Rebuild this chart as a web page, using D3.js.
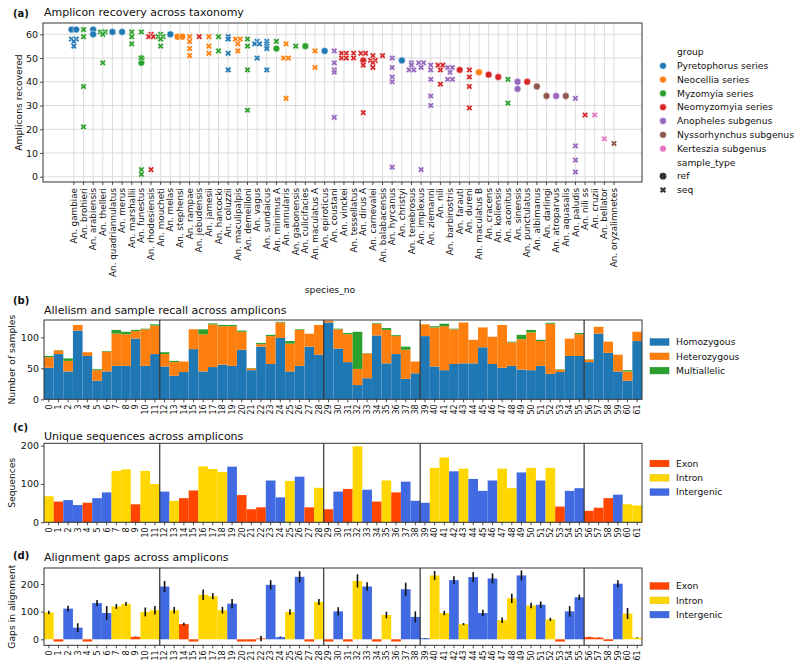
<!DOCTYPE html>
<html><head><meta charset="utf-8">
<script src="https://cdn.jsdelivr.net/npm/d3@7"></script>
<style>body{margin:0;background:#fff} text{font-family:"DejaVu Sans",sans-serif;fill:#111}</style>
</head><body><svg id="c" width="800" height="671"></svg>
<script>
// ---------- Panel (a) data ----------
const species = ["An. gambiae","An. brohieri","An. arabiensis","An. thelleri","An. quadriannulatus","An. merus","An. marshallii","An. funestus","An. rhodesiensis","An. moucheti","An. melas","An. stephensi","An. rampae","An. jebudensis","An. jamesii","An. hancocki","An. coluzzii","An. maculipalpis","An. demeilloni","An. vagus","An. sundaicus","An. minimus A","An. annularis","An. gabonensis","An. culicifacies","An. maculatus A","An. epiroticus","An. coustani","An. vinckei","An. tessellatus","An. dirus A","An. carnevalei","An. balabacensis","An. hyrcanus","An. christyi","An. tenebrosus","An. implexus","An. ziemanni","An. nili","An. barbirostris","An. farauti","An. dureni","An. maculatus B","An. cracens","An. koliensis","An. aconitus","An. sinensis","An. punctulatus","An. albimanus","An. darlingi","An. atroparvus","An. aquasalis","An. paludis","An. nili ss","An. cruzii","An. bellator","An. oryzalimnetes"];
const groups = ["Pyretophorus series","Neocellia series","Myzomyia series","Neomyzomyia series","Anopheles subgenus","Nyssorhynchus subgenus","Kerteszia subgenus"];
const groupColors = ["#1f77b4","#ff7f0e","#2ca02c","#d62728","#9467bd","#8c564b","#e377c2"];
const speciesGroup = [0,2,0,2,0,0,2,2,3,2,0,1,1,3,1,2,0,1,2,0,0,2,1,2,2,1,0,4,3,3,3,3,3,4,0,4,4,4,3,4,3,3,1,3,3,2,4,3,5,5,4,5,4,3,6,6,5];
const refValues = [[62,62],[],[62,60],[],[61],[61],[],[50,48],[],[],[60],[59,59],[],[],[],[],[],[],[],[],[],[54],[],[],[55],[],[53],[],[],[],[49],[],[],[],[49],[],[],[],[],[],[45],[],[44],[43],[42],[],[40,37],[40],[38],[34],[34],[34],[],[],[],[],[]];
const seqValues = [[58,58,57,55],[62,59,38,21],[],[61,61,60,48],[],[],[61,59,56],[61,50,3,1],[60,59,59,3],[60,59,59,58,55],[],[],[59,57,54,51],[59],[59,55,52],[59,53],[59,58,52,45],[58,58,56,53],[58,55,45,28],[57,56,56,50],[57,56,55,54,45],[57],[56,50,50,33],[55],[],[53,46],[],[53,48,45,44,25],[52,52,50,50],[52,50],[52,52,47,27],[51,49,49,48,46],[51],[50,46,42,40,4],[],[48,47,45,45],[48,48,46,3],[47,45,41,34,30],[47,47,45,39],[46,46,44,41,41],[],[45,42,38,29],[],[],[],[41,31],[],[],[],[],[],[],[33,13,7,2],[26],[26],[16],[14]];
const yTicksA = [0,10,20,30,40,50,60];

// ---------- Panel (b) data ----------
const amplicons = d3.range(62);
const homozygous = [51,73,45,111,70,30,45,54,54,98,54,73,53,38,44,81,45,52,56,54,80,47,85,57,99,45,54,85,72,124,82,60,23,34,103,58,73,33,42,102,53,47,57,58,58,84,57,51,54,48,47,54,41,44,70,70,60,106,75,45,30,94];
const heterozygous = [17,6,17,9,6,17,32,52,51,12,59,46,20,22,17,32,60,69,62,64,29,3,4,45,25,45,58,21,48,3,31,45,26,40,19,54,29,47,19,19,63,71,56,66,38,32,44,69,38,49,61,40,81,4,28,35,4,11,18,27,15,15];
const multiallelic = [2,0.5,4,0,0,1.5,1,6,4,2,1,2,3,2,0,0,8,1.5,2,2,2,0.5,2,2,1,4,1,0,0,0,1,2,60,0.5,1,3,1.5,5,0,0,2,4,1,0,0,0,0,0,1,7,4,2,1.5,0.5,0,2,0.5,0,0,0,2,0];
const alleleKeys = ["Homozygous","Heterozygous","Multiallelic"];
const alleleColors = ["#1f77b4","#ff7f0e","#2ca02c"];
const yTicksB = [0,50,100];

// ---------- Panel (c)/(d) data ----------
const regionTypes = ["Exon","Intron","Intergenic"];
const regionColors = ["#ff4500","#ffd700","#4169e1"];
const ampliconType = ["Intron","Exon","Intergenic","Intergenic","Exon","Intergenic","Intergenic","Intron","Intron","Exon","Intron","Intron","Intergenic","Intron","Exon","Exon","Intron","Intron","Intron","Intergenic","Exon","Exon","Exon","Intergenic","Intergenic","Intron","Intergenic","Exon","Intron","Exon","Intergenic","Exon","Intron","Intergenic","Exon","Intron","Exon","Intergenic","Intergenic","Intergenic","Intron","Intron","Intergenic","Intron","Intergenic","Intergenic","Intergenic","Intron","Intron","Intergenic","Intron","Intergenic","Intron","Exon","Intergenic","Intergenic","Exon","Exon","Exon","Intergenic","Intron","Intron"];
const uniqueSeqs = [68,54,58,45,51,63,78,134,138,47,134,100,80,56,63,83,146,139,131,145,71,34,39,109,65,108,119,39,90,34,80,87,198,85,54,109,78,106,56,51,142,169,133,140,113,82,109,140,89,130,142,109,142,41,82,89,30,38,63,72,47,44];
const yTicksC = [0,100,200];
const gaps = [97,-8,111,42,-8,131,95,119,128,9,99,105,191,105,55,-8,161,156,105,129,-8,-8,3,197,8,99,226,-8,135,-8,101,-8,211,191,-8,88,-8,181,81,4,231,95,214,55,225,95,220,69,148,231,122,125,72,-8,101,152,8,6,-6,201,93,6];
const gapErr = [6,0,10,16,0,11,25,9,7,1,16,15,20,12,5,0,19,11,12,17,0,0,10,17,2,10,20,0,11,0,15,0,24,15,0,12,0,24,20,1,16,8,14,4,18,12,18,10,17,18,10,12,6,0,19,10,1,1,0,13,20,1];
const yTicksD = [0,100,200];
const groupBreaks = [12,29,39,56];

const svg = d3.select("#c");
const FS_TITLE = 11, FS_LAB = 9.2, FS_TICK = 9.5;

function styleAxis(g, fs){
  g.select(".domain").remove();
  g.selectAll(".tick line").attr("stroke","#222").attr("stroke-width",0.8);
  g.selectAll(".tick text").attr("font-size",fs).attr("fill","#111").style("font-family","DejaVu Sans");
}

// ================= Panel (a) =================
const A = {l:43, r:642, t:23, b:182};
const xA = d3.scaleLinear().domain([-3.2, 58.9]).range([A.l, A.r]);
const yA = d3.scaleLinear().domain([-2.23, 64.76]).range([A.b, A.t]);
const gA = svg.append("g");
gA.selectAll("line.vg").data(species).join("line")
  .attr("x1",(d,i)=>xA(i)).attr("x2",(d,i)=>xA(i)).attr("y1",A.t).attr("y2",A.b)
  .attr("stroke","#dcdcdc").attr("stroke-width",1);
gA.selectAll("line.hg").data(yTicksA).join("line")
  .attr("x1",A.l).attr("x2",A.r).attr("y1",d=>yA(d)).attr("y2",d=>yA(d))
  .attr("stroke","#dcdcdc").attr("stroke-width",1);

function spread(vals){
  const cnt = {}, seen = {};
  vals.forEach(v=>cnt[v]=(cnt[v]||0)+1);
  return vals.map(v=>{ const k=seen[v]||0; seen[v]=k+1; return {v, off:(k-(cnt[v]-1)/2)*4.7}; });
}
const pts = [];
species.forEach((s,i)=>{
  spread(refValues[i]).forEach(p=>pts.push({i, v:p.v, off:p.off, type:"ref"}));
  spread(seqValues[i]).forEach(p=>pts.push({i, v:p.v, off:p.off, type:"seq"}));
});
const xSym = d3.symbol(d3.symbolCross, 24);
pts.forEach(p=>{
  const cx = xA(p.i)+p.off, cy = yA(p.v), col = groupColors[speciesGroup[p.i]];
  if(p.type==="ref"){
    gA.append("circle").attr("cx",cx).attr("cy",cy).attr("r",3.4).attr("fill",col).attr("stroke","#fff").attr("stroke-width",0.5);
  } else {
    gA.append("path").attr("d",xSym()).attr("transform",`translate(${cx},${cy}) rotate(45)`).attr("fill",col).attr("stroke","#fff").attr("stroke-width",0.5);
  }
});
gA.append("rect").attr("x",A.l).attr("y",A.t).attr("width",A.r-A.l).attr("height",A.b-A.t).attr("fill","none").attr("stroke","#333").attr("stroke-width",1);
const axA = gA.append("g").attr("transform",`translate(${A.l},0)`).call(d3.axisLeft(yA).tickValues(yTicksA).tickSize(3).tickPadding(2));
styleAxis(axA, FS_TICK);
gA.selectAll("text.sp").data(species).join("text")
  .attr("transform",(d,i)=>`translate(${xA(i)},${A.b+6}) rotate(-90)`)
  .attr("text-anchor","end").attr("dy","0.35em").attr("font-size",8.8).text(d=>d);
gA.selectAll("line.xt").data(species).join("line")
  .attr("x1",(d,i)=>xA(i)).attr("x2",(d,i)=>xA(i)).attr("y1",A.b).attr("y2",A.b+3).attr("stroke","#222").attr("stroke-width",0.8);
svg.append("text").attr("x",330).attr("y",293).attr("text-anchor","middle").attr("font-size",FS_LAB).text("species_no");
svg.append("text").attr("transform",`translate(22,${(A.t+A.b)/2}) rotate(-90)`).attr("text-anchor","middle").attr("font-size",FS_LAB).text("Amplicons recovered");
svg.append("text").attr("x",13).attr("y",17).attr("font-size",10).attr("font-weight","bold").text("(a)");
svg.append("text").attr("x",44).attr("y",16).attr("font-size",FS_TITLE).text("Amplicon recovery across taxonomy");

// legend (a)
const legA = svg.append("g");
const lY0 = 52, lDy = 13.8;
legA.append("text").attr("x",677).attr("y",lY0).attr("dy","0.35em").attr("font-size",FS_LAB).text("group");
groups.forEach((gname,k)=>{
  const y = lY0 + (k+1)*lDy;
  legA.append("circle").attr("cx",663).attr("cy",y).attr("r",3.4).attr("fill",groupColors[k]).attr("stroke","#fff").attr("stroke-width",0.5);
  legA.append("text").attr("x",677).attr("y",y).attr("dy","0.35em").attr("font-size",FS_LAB).text(gname);
});
legA.append("text").attr("x",677).attr("y",lY0+8*lDy).attr("dy","0.35em").attr("font-size",FS_LAB).text("sample_type");
legA.append("circle").attr("cx",663).attr("cy",lY0+9*lDy).attr("r",3.4).attr("fill","#333");
legA.append("text").attr("x",677).attr("y",lY0+9*lDy).attr("dy","0.35em").attr("font-size",FS_LAB).text("ref");
legA.append("path").attr("d",xSym()).attr("transform",`translate(663,${lY0+10*lDy}) rotate(45)`).attr("fill","#333");
legA.append("text").attr("x",677).attr("y",lY0+10*lDy).attr("dy","0.35em").attr("font-size",FS_LAB).text("seq");

// ================= helpers for (b)(c)(d) =================
const L = 44, R = 642;
const xBand = d3.scaleBand().domain(amplicons).range([L, R]).padding(0);
function frameAndAxes(g, y, top, bottom, ticks, ylabel){
  g.selectAll("line.sep").data(groupBreaks).join("line")
    .attr("x1",d=>xBand(d)).attr("x2",d=>xBand(d)).attr("y1",top).attr("y2",bottom)
    .attr("stroke","#333").attr("stroke-width",1.2);
  g.append("rect").attr("x",L).attr("y",top).attr("width",R-L).attr("height",bottom-top).attr("fill","none").attr("stroke","#333").attr("stroke-width",1);
  const ay = g.append("g").attr("transform",`translate(${L},0)`).call(d3.axisLeft(y).tickValues(ticks).tickSize(3).tickPadding(2));
  styleAxis(ay, FS_TICK);
  const ax = g.append("g").attr("transform",`translate(0,${bottom})`).call(d3.axisBottom(xBand).tickSize(3).tickPadding(2));
  styleAxis(ax, 8);
  ax.selectAll(".tick text").attr("transform","rotate(-90)").attr("text-anchor","end").attr("x",-5).attr("y",0).attr("dy","0.35em");
  g.append("text").attr("transform",`translate(14.5,${(top+bottom)/2}) rotate(-90)`).attr("text-anchor","middle").attr("font-size",FS_LAB).text(ylabel);
}
function patchLegend(g, keys, colors, y0){
  keys.forEach((k,i)=>{
    const y = y0 + i*14.3;
    g.append("rect").attr("x",650).attr("y",y-3.3).attr("width",19).attr("height",6.6).attr("fill",colors[i]).attr("stroke",d3.color(colors[i]).darker(0.4)).attr("stroke-width",0.5);
    g.append("text").attr("x",676).attr("y",y).attr("dy","0.35em").attr("font-size",FS_LAB).text(k);
  });
}

// ================= Panel (b) =================
const B = {t:320, b:399.3};
const yB = d3.scaleLinear().domain([0,128]).range([B.b, B.t]);
const gB = svg.append("g");
const stackData = amplicons.map(i=>({i, Homozygous:homozygous[i], Heterozygous:heterozygous[i], Multiallelic:multiallelic[i]}));
const stacked = d3.stack().keys(alleleKeys)(stackData);
stacked.forEach((layer,k)=>{
  gB.selectAll(null).data(layer).join("rect")
    .attr("x",d=>xBand(d.data.i)).attr("width",xBand.bandwidth())
    .attr("y",d=>yB(d[1])).attr("height",d=>Math.max(0,yB(d[0])-yB(d[1])))
    .attr("fill",alleleColors[k]);
});
frameAndAxes(gB, yB, B.t, B.b, yTicksB, "Number of samples");
patchLegend(gB, alleleKeys, alleleColors, 342);
svg.append("text").attr("x",13).attr("y",304).attr("font-size",10).attr("font-weight","bold").text("(b)");
svg.append("text").attr("x",44).attr("y",314).attr("font-size",FS_TITLE).text("Allelism and sample recall across amplicons");

// ================= Panel (c) =================
const C = {t:443.3, b:522.3};
const yC = d3.scaleLinear().domain([0,206]).range([C.b, C.t]);
const gC = svg.append("g");
gC.selectAll("rect.bar").data(amplicons).join("rect")
  .attr("x",i=>xBand(i)).attr("width",xBand.bandwidth())
  .attr("y",i=>yC(uniqueSeqs[i])).attr("height",i=>yC(0)-yC(uniqueSeqs[i]))
  .attr("fill",i=>regionColors[regionTypes.indexOf(ampliconType[i])]);
frameAndAxes(gC, yC, C.t, C.b, yTicksC, "Sequences");
patchLegend(gC, regionTypes, regionColors, 463.5);
svg.append("text").attr("x",13).attr("y",431).attr("font-size",10).attr("font-weight","bold").text("(c)");
svg.append("text").attr("x",44).attr("y",440).attr("font-size",FS_TITLE).text("Unique sequences across amplicons");

// ================= Panel (d) =================
const D = {t:568, b:645.3};
const yD = d3.scaleLinear().domain([-21.7,257.9]).range([D.b, D.t]);
const gD = svg.append("g");
gD.selectAll("rect.bar").data(amplicons).join("rect")
  .attr("x",i=>xBand(i)).attr("width",xBand.bandwidth())
  .attr("y",i=>yD(Math.max(0,gaps[i]))).attr("height",i=>Math.abs(yD(0)-yD(gaps[i])))
  .attr("fill",i=>regionColors[regionTypes.indexOf(ampliconType[i])]);
gD.selectAll("line.err").data(amplicons.filter(i=>gapErr[i]>0)).join("line")
  .attr("x1",i=>xBand(i)+xBand.bandwidth()/2).attr("x2",i=>xBand(i)+xBand.bandwidth()/2)
  .attr("y1",i=>yD(gaps[i]-gapErr[i])).attr("y2",i=>yD(gaps[i]+gapErr[i]))
  .attr("stroke","#111").attr("stroke-width",1.6);
frameAndAxes(gD, yD, D.t, D.b, yTicksD, "Gaps in alignment");
patchLegend(gD, regionTypes, regionColors, 586);
svg.append("text").attr("x",13).attr("y",559).attr("font-size",10).attr("font-weight","bold").text("(d)");
svg.append("text").attr("x",44).attr("y",561).attr("font-size",FS_TITLE).text("Alignment gaps across amplicons");
</script></body></html>
